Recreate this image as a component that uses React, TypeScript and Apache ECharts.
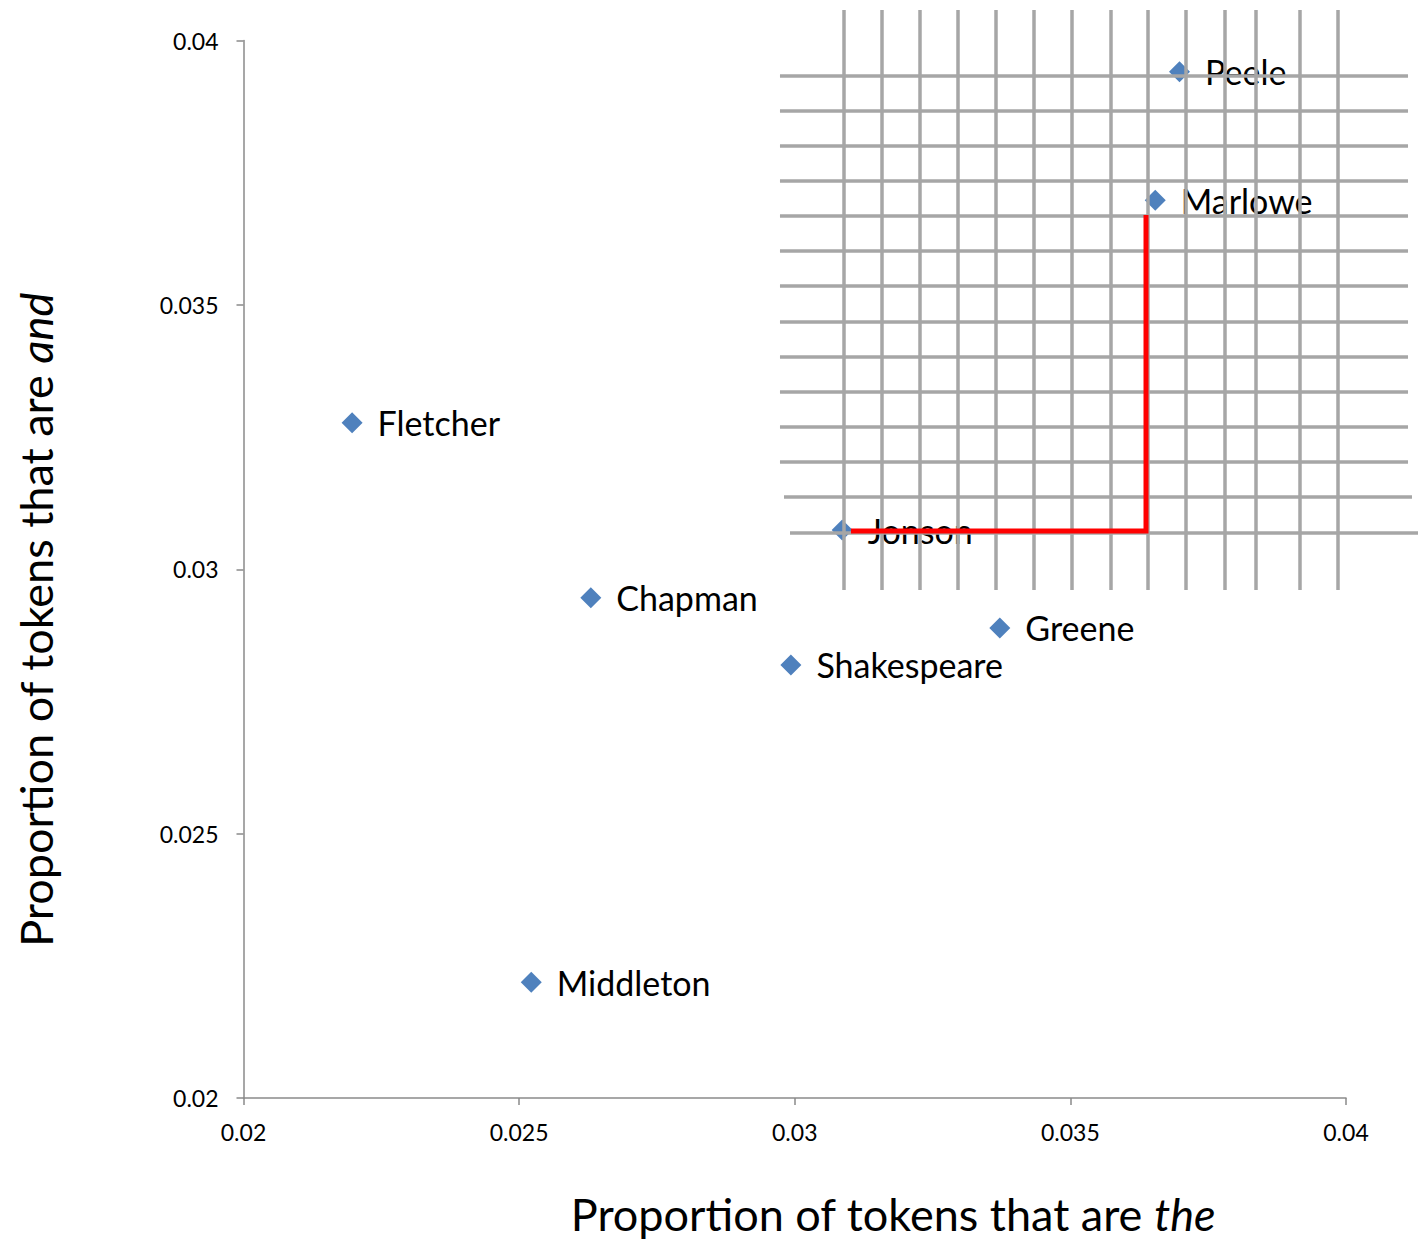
import React, { useEffect, useRef } from "react";
import * as echarts from "echarts";

// Authors and their proportions
const authors = ["Fletcher", "Chapman", "Shakespeare", "Greene", "Middleton", "Jonson", "Marlowe", "Peele"];
const theValues = [0.02197, 0.0263, 0.02993, 0.03372, 0.02522, 0.03086, 0.03654, 0.03698];
const andValues = [0.03277, 0.02946, 0.02819, 0.02889, 0.02219, 0.03074, 0.03698, 0.03941];

// Axis ticks
const axisMin = 0.02;
const axisMax = 0.04;
const axisStep = 0.005;

// Overlay grid (hand-drawn, in data units)
const gridXs = [0.030893, 0.031583, 0.032272, 0.032961, 0.033651, 0.03434, 0.035029, 0.035732, 0.036408, 0.037098, 0.0378, 0.038367, 0.039166, 0.039855];
const gridXTop = 0.040577;
const gridXBottom = 0.029608;
const gridYs = [0.039329, 0.038667, 0.038005, 0.037343, 0.036681, 0.036019, 0.035357, 0.034676, 0.034014, 0.033352, 0.03269, 0.032028, 0.031366, 0.030691];
const gridYStart = [0.029732, 0.029732, 0.029732, 0.029732, 0.029732, 0.029732, 0.029732, 0.029732, 0.029732, 0.029732, 0.029732, 0.029732, 0.029805, 0.029914];
const gridYEnd = [0.041125, 0.041125, 0.041125, 0.041125, 0.041125, 0.041125, 0.041125, 0.041125, 0.041125, 0.041125, 0.041125, 0.041125, 0.041197, 0.041306];

// Red path
const redPathX = [0.03102, 0.036372, 0.036372];
const redPathY = [0.030724, 0.030724, 0.0367];

const FONT = "Lato";

export default function App() {
  const ref = useRef<HTMLDivElement>(null);
  useEffect(() => {
    if (!ref.current) return;
    const chart = echarts.init(ref.current, undefined, { renderer: "svg" });
    const points = authors.map((name, i) => ({ name, value: [theValues[i], andValues[i]] }));
    const vLines = gridXs.map((x) => ({ coords: [[x, gridXTop], [x, gridXBottom]] }));
    const hLines = gridYs.map((y, i) => ({ coords: [[gridYStart[i], y], [gridYEnd[i], y]] }));
    const redCoords = redPathX.map((x, i) => [x, redPathY[i]]);
    const axisCommon = {
      type: "value" as const,
      min: axisMin,
      max: axisMax,
      interval: axisStep,
      splitLine: { show: false },
      axisLine: { show: true, lineStyle: { color: "#8a8a8a", width: 1.5 } },
      axisTick: { show: true, length: 7, lineStyle: { color: "#8a8a8a", width: 1.5 } },
    };
    const titleRich = {
      a: { fontFamily: FONT, fontSize: 45, fill: "#000" },
      b: { fontFamily: FONT, fontSize: 45, fontStyle: "italic", fill: "#000" },
    };
    chart.setOption({
      animation: false,
      backgroundColor: "#ffffff",
      grid: { left: 243.5, right: 72, top: 40.5, bottom: 143 },
      xAxis: {
        ...axisCommon,
        axisLabel: { color: "#000", fontFamily: FONT, fontSize: 23, margin: 22 },
      },
      yAxis: {
        ...axisCommon,
        axisLabel: { color: "#000", fontFamily: FONT, fontSize: 23, margin: 25 },
      },
      graphic: [
        {
          type: "text",
          x: 893,
          y: 1214,
          style: {
            text: "{a|Proportion of tokens that are }{b|the}",
            align: "center",
            verticalAlign: "middle",
            rich: titleRich,
          },
        },
        {
          type: "text",
          x: 36,
          y: 620,
          rotation: Math.PI / 2,
          style: {
            text: "{a|Proportion of tokens that are }{b|and}",
            align: "center",
            verticalAlign: "middle",
            rich: titleRich,
          },
        },
      ],
      series: [
        {
          type: "scatter",
          z: 2,
          symbol: "diamond",
          symbolSize: 21,
          itemStyle: { color: "#4f81bd", opacity: 1 },
          label: {
            show: true,
            position: "right",
            distance: 15,
            formatter: "{b}",
            color: "#000",
            fontFamily: FONT,
            fontSize: 34,
          },
          data: points,
        },
        {
          type: "lines",
          coordinateSystem: "cartesian2d",
          z: 5,
          clip: false,
          polyline: false,
          silent: true,
          lineStyle: { color: "#a6a6a6", width: 3.5, opacity: 1 },
          data: [...vLines, ...hLines],
        },
        {
          type: "lines",
          coordinateSystem: "cartesian2d",
          z: 6,
          clip: false,
          polyline: true,
          silent: true,
          lineStyle: { color: "#ff0000", width: 5, opacity: 1, join: "miter" },
          data: [{ coords: redCoords }],
        },
      ],
    });
    return () => chart.dispose();
  }, []);
  return (
    <div
      ref={ref}
      style={{ position: "absolute", left: 0, top: 0, width: 1418, height: 1241, background: "#fff" }}
    />
  );
}
